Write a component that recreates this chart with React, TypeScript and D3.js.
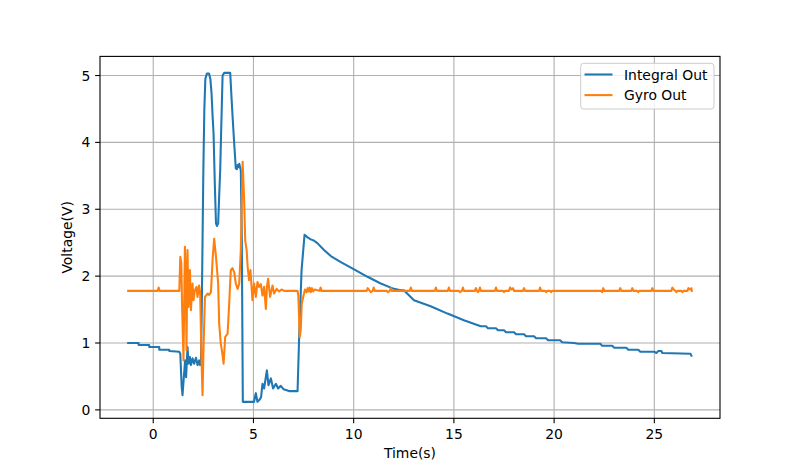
import React from "react";
import * as d3 from "d3";

const seriesNames = ["Integral Out", "Gyro Out"];
const seriesColors = ["#1f77b4", "#ff7f0e"];
const xTicks = [0, 5, 10, 15, 20, 25];
const yTicks = [0, 1, 2, 3, 4, 5];

// Integral Out: [time (s), voltage (V)]
const integralOut: [number, number][] = [
  [-1.25, 1.0], [-0.73, 1.0], [-0.73, 0.97], [-0.2, 0.97], [-0.2, 0.94], [0.3, 0.94], [0.3, 0.9],
  [0.8, 0.9], [0.8, 0.88], [1.3, 0.87], [1.35, 0.84], [1.42, 0.34], [1.46, 0.22], [1.54, 0.54],
  [1.59, 0.74], [1.64, 0.49], [1.71, 0.94], [1.76, 0.69], [1.83, 0.79], [1.88, 0.67], [1.96, 0.77],
  [2.04, 0.69], [2.13, 0.78], [2.21, 0.67], [2.29, 0.74], [2.34, 0.67], [2.38, 0.7], [2.42, 1.5],
  [2.46, 2.53], [2.5, 3.58], [2.55, 4.5], [2.6, 4.95], [2.68, 5.03], [2.78, 5.03], [2.85, 4.95],
  [2.91, 4.73], [2.96, 4.4], [3.01, 4.13], [3.07, 3.4], [3.13, 2.79], [3.18, 2.75], [3.24, 2.79],
  [3.29, 3.2], [3.34, 3.58], [3.4, 4.3], [3.46, 5.0], [3.54, 5.04], [3.84, 5.04], [3.9, 4.7],
  [3.96, 4.38], [4.04, 3.98], [4.12, 3.61], [4.17, 3.6], [4.21, 3.66], [4.26, 3.63], [4.29, 3.68],
  [4.37, 3.58], [4.42, 2.5], [4.47, 0.12], [5.03, 0.12], [5.08, 0.2], [5.12, 0.25], [5.2, 0.12],
  [5.3, 0.15], [5.38, 0.19], [5.45, 0.39], [5.53, 0.32], [5.67, 0.59], [5.75, 0.37], [5.87, 0.47],
  [5.98, 0.32], [6.12, 0.39], [6.23, 0.32], [6.36, 0.36], [6.5, 0.31], [6.7, 0.29], [6.8, 0.28],
  [7.2, 0.28], [7.28, 1.09], [7.4, 2.09], [7.55, 2.62], [7.7, 2.58], [7.86, 2.55], [8.03, 2.53],
  [8.2, 2.49], [8.52, 2.39], [8.86, 2.3], [9.36, 2.21], [10.02, 2.1], [10.69, 1.99], [11.35, 1.89],
  [12.01, 1.81], [12.35, 1.79], [12.5, 1.79], [13.01, 1.64], [13.84, 1.55], [14.68, 1.44],
  [15.5, 1.34], [16.34, 1.25], [16.6, 1.25], [16.7, 1.22], [17.1, 1.22], [17.2, 1.19], [17.5, 1.19],
  [17.6, 1.16], [18.0, 1.16], [18.1, 1.13], [18.5, 1.13], [18.6, 1.1], [19.0, 1.1], [19.1, 1.07],
  [19.6, 1.07], [19.7, 1.04], [20.3, 1.04], [20.4, 1.01], [21.0, 1.0], [21.2, 0.99], [22.3, 0.99],
  [22.4, 0.96], [22.9, 0.96], [23.0, 0.93], [23.6, 0.93], [23.7, 0.9], [24.2, 0.9], [24.3, 0.87],
  [25.0, 0.87], [25.1, 0.85], [25.2, 0.88], [25.35, 0.88], [25.4, 0.85], [26.8, 0.84], [26.85, 0.81],
];

// Gyro Out: [time (s), voltage (V)]
const gyroOut: [number, number][] = [
  [-1.25, 1.78], [0.22, 1.78], [0.27, 1.83], [0.32, 1.78], [1.3, 1.78], [1.35, 2.29], [1.4, 2.19],
  [1.44, 1.54], [1.51, 0.74], [1.58, 2.44], [1.62, 2.04], [1.66, 0.89], [1.71, 2.39], [1.76, 1.54],
  [1.83, 2.09], [1.88, 1.49], [1.96, 1.89], [2.01, 1.64], [2.08, 1.79], [2.16, 1.84], [2.21, 1.69],
  [2.29, 1.86], [2.34, 1.75], [2.41, 0.74], [2.46, 0.22], [2.51, 0.94], [2.58, 1.69], [2.71, 1.74],
  [2.79, 1.72], [2.88, 1.76], [2.96, 2.24], [3.04, 2.56], [3.13, 2.29], [3.24, 1.89], [3.29, 1.29],
  [3.37, 0.99], [3.45, 0.84], [3.51, 0.69], [3.59, 1.09], [3.71, 1.14], [3.79, 1.59], [3.87, 2.09],
  [3.95, 2.12], [4.04, 2.06], [4.12, 1.89], [4.21, 1.81], [4.29, 1.89], [4.37, 2.39], [4.46, 3.71],
  [4.53, 3.18], [4.59, 2.53], [4.66, 2.39], [4.71, 2.14], [4.78, 1.94], [4.85, 2.09], [4.95, 1.64],
  [5.03, 1.89], [5.12, 1.69], [5.2, 1.91], [5.28, 1.84], [5.37, 1.88], [5.45, 1.71], [5.53, 1.84],
  [5.62, 1.51], [5.67, 1.84], [5.73, 1.96], [5.83, 1.69], [5.95, 1.86], [6.03, 1.74], [6.16, 1.81],
  [6.28, 1.77], [6.4, 1.8], [6.53, 1.78], [7.2, 1.78], [7.24, 1.7], [7.31, 1.09], [7.36, 1.2],
  [7.41, 1.59], [7.5, 1.71], [7.57, 1.8], [7.65, 1.76], [7.7, 1.82], [7.75, 1.77], [7.8, 1.83],
  [7.86, 1.76], [7.92, 1.82], [7.98, 1.77], [8.05, 1.8], [8.3, 1.78], [8.35, 1.83], [8.4, 1.78],
  [10.65, 1.78], [10.7, 1.82], [10.8, 1.78], [10.85, 1.76], [10.95, 1.78], [11.0, 1.83], [11.05, 1.78],
  [11.65, 1.78], [11.7, 1.76], [11.8, 1.78], [11.85, 1.82], [11.9, 1.78], [12.8, 1.78], [12.85, 1.83],
  [12.9, 1.78], [14.05, 1.78], [14.1, 1.83], [14.15, 1.78], [14.7, 1.78], [14.75, 1.83], [14.8, 1.78],
  [15.25, 1.78], [15.3, 1.76], [15.4, 1.78], [15.45, 1.83], [15.5, 1.78], [16.05, 1.78], [16.1, 1.82],
  [16.15, 1.78], [16.2, 1.76], [16.25, 1.78], [16.3, 1.83], [16.35, 1.78], [17.05, 1.78], [17.1, 1.83],
  [17.15, 1.78], [17.45, 1.78], [17.5, 1.76], [17.55, 1.78], [17.75, 1.78], [17.8, 1.83], [17.88, 1.8],
  [17.95, 1.82], [18.0, 1.78], [18.45, 1.78], [18.5, 1.82], [18.55, 1.78], [19.25, 1.78], [19.3, 1.83],
  [19.35, 1.78], [19.55, 1.78], [19.6, 1.76], [19.65, 1.78], [19.8, 1.78], [19.85, 1.76], [19.9, 1.78],
  [22.35, 1.78], [22.4, 1.76], [22.45, 1.82], [22.5, 1.78], [23.25, 1.78], [23.3, 1.82], [23.35, 1.78],
  [23.85, 1.78], [23.9, 1.82], [23.95, 1.78], [24.15, 1.78], [24.2, 1.76], [24.25, 1.78], [24.85, 1.78],
  [24.9, 1.82], [24.95, 1.78], [25.85, 1.78], [25.9, 1.83], [25.97, 1.8], [26.05, 1.78], [26.1, 1.76],
  [26.15, 1.78], [26.35, 1.78], [26.4, 1.76], [26.45, 1.78], [26.65, 1.78], [26.7, 1.82], [26.78, 1.8],
  [26.85, 1.82], [26.87, 1.78],
];

const W = 800;
const H = 470;
const L = 100;
const R = 720;
const T = 56.4;
const B = 418.3;
const FONT = "'DejaVu Sans', sans-serif";
const FS = 13.9;

export default function App() {
  const all = [...integralOut, ...gyroOut];
  const [x0, x1] = d3.extent(all, (d) => d[0]) as [number, number];
  const [y0, y1] = d3.extent(all, (d) => d[1]) as [number, number];
  const px = (x1 - x0) * 0.05;
  const py = (y1 - y0) * 0.05;
  const x = d3.scaleLinear().domain([x0 - px, x1 + px]).range([L, R]);
  const y = d3.scaleLinear().domain([y0 - py, y1 + py]).range([B, T]);
  const line = d3
    .line<[number, number]>()
    .x((d) => x(d[0]))
    .y((d) => y(d[1]));
  const series = [integralOut, gyroOut];

  return (
    <svg
      width={W}
      height={H}
      style={{ position: "absolute", left: 0, top: 0, background: "#fff" }}
      fontFamily={FONT}
    >
      <rect x={0} y={0} width={W} height={H} fill="#fff" />
      <defs>
        <clipPath id="plotclip">
          <rect x={L} y={T} width={R - L} height={B - T} />
        </clipPath>
      </defs>
      {/* grid */}
      {xTicks.map((t) => (
        <line key={"gx" + t} x1={x(t)} x2={x(t)} y1={T} y2={B} stroke="#b0b0b0" strokeWidth={1.1} />
      ))}
      {yTicks.map((t) => (
        <line key={"gy" + t} x1={L} x2={R} y1={y(t)} y2={y(t)} stroke="#b0b0b0" strokeWidth={1.1} />
      ))}
      {/* lines */}
      <g clipPath="url(#plotclip)">
        {series.map((s, i) => (
          <path
            key={i}
            d={line(s) || ""}
            fill="none"
            stroke={seriesColors[i]}
            strokeWidth={2.08}
            strokeLinejoin="round"
            strokeLinecap="square"
          />
        ))}
      </g>
      {/* spines */}
      <rect x={L} y={T} width={R - L} height={B - T} fill="none" stroke="#000" strokeWidth={1.1} />
      {/* x ticks */}
      {xTicks.map((t) => (
        <g key={"xt" + t}>
          <line x1={x(t)} x2={x(t)} y1={B} y2={B + 4.86} stroke="#000" strokeWidth={1.1} />
          <text x={x(t)} y={B + 20.3} fontSize={FS} textAnchor="middle" fill="#000">
            {t}
          </text>
        </g>
      ))}
      {/* y ticks */}
      {yTicks.map((t) => (
        <g key={"yt" + t}>
          <line x1={L - 4.86} x2={L} y1={y(t)} y2={y(t)} stroke="#000" strokeWidth={1.1} />
          <text x={L - 9.7} y={y(t) + 5} fontSize={FS} textAnchor="end" fill="#000">
            {t}
          </text>
        </g>
      ))}
      <text x={(L + R) / 2} y={458} fontSize={FS} textAnchor="middle" fill="#000">
        Time(s)
      </text>
      <text
        transform={`translate(72, ${(T + B) / 2}) rotate(-90)`}
        fontSize={FS}
        textAnchor="middle"
        fill="#000"
      >
        Voltage(V)
      </text>
      {/* legend */}
      <rect x={580.7} y={63.3} width={133.3} height={45.7} rx={3} fill="#fff" fillOpacity={0.8} stroke="#cccccc" strokeWidth={1} />
      {seriesNames.map((n, i) => (
        <g key={n}>
          <line x1={584.5} x2={612.5} y1={74.5 + i * 20.6} y2={74.5 + i * 20.6} stroke={seriesColors[i]} strokeWidth={2.08} />
          <text x={624} y={79.5 + i * 20.6} fontSize={FS} fill="#000">
            {n}
          </text>
        </g>
      ))}
    </svg>
  );
}
